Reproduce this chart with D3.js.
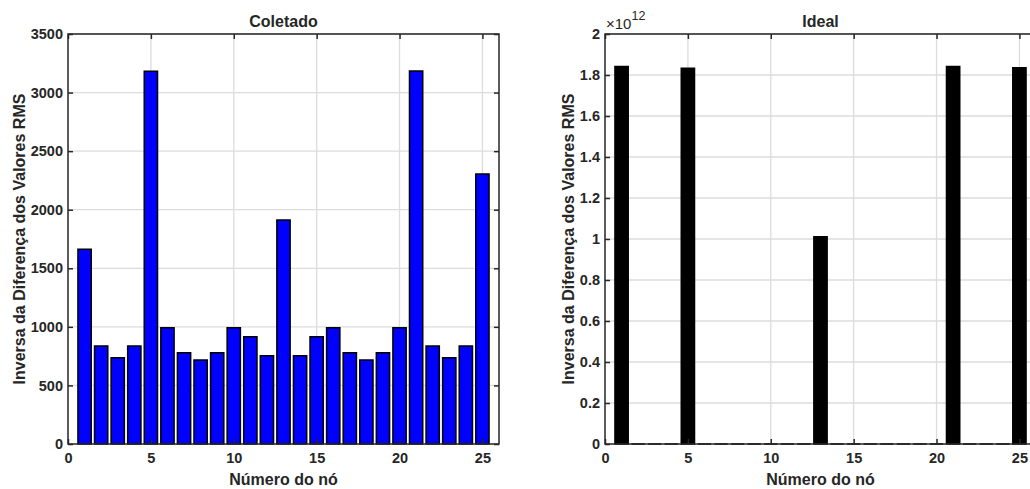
<!DOCTYPE html>
<html>
<head>
<meta charset="utf-8">
<script src="https://cdn.jsdelivr.net/npm/d3@7"></script>
<style>
  body { margin: 0; background: #fff; }
  svg text { font-family: "Liberation Sans", Arial, sans-serif; fill: #262626; }
</style>
</head>
<body>
<div id="chart"></div>
<script>
// node numbers on the x axis
var nodes = [1, 2, 3, 4, 5, 6, 7, 8, 9, 10, 11, 12, 13, 14, 15, 16, 17, 18, 19, 20, 21, 22, 23, 24, 25];
// measured ("Coletado") inverse RMS difference
var coletado = [1662, 837, 737, 837, 3182, 993, 780, 717, 780, 993, 916, 754, 1912,
                754, 916, 993, 780, 717, 780, 993, 3185, 837, 737, 837, 2305];
// ideal inverse RMS difference
var ideal = [1.841e12, 0, 0, 0, 1.833e12, 0, 0, 0, 0, 0, 0, 0, 1.011e12,
             0, 0, 0, 0, 0, 0, 0, 1.841e12, 0, 0, 0, 1.835e12];
var xTicks = [0, 5, 10, 15, 20, 25];
var leftYTicks = [0, 500, 1000, 1500, 2000, 2500, 3000, 3500];
var rightYTicks = [0, 0.2e12, 0.4e12, 0.6e12, 0.8e12, 1e12, 1.2e12, 1.4e12, 1.6e12, 1.8e12, 2e12];

var width = 1030, height = 489;
var svg = d3.select("#chart").append("svg")
    .attr("width", width)
    .attr("height", height);

var yLabel = "Inversa da Diferença dos Valores RMS";
var xLabel = "Número do nó";

function drawPanel(opt) {
    var x = d3.scaleLinear().domain([0, 26]).range([opt.left, opt.right]);
    var y = d3.scaleLinear().domain([0, opt.yMax]).range([opt.bottom, opt.top]);
    var g = svg.append("g");

    //grid lines
    g.selectAll(".gx").data(xTicks.slice(1))
        .enter().append("line")
        .attr("x1", d => x(d)).attr("x2", d => x(d))
        .attr("y1", opt.top).attr("y2", opt.bottom)
        .attr("stroke", "#dcdcdc").attr("stroke-width", 1.3);
    g.selectAll(".gy").data(opt.yTicks.slice(1))
        .enter().append("line")
        .attr("x1", opt.left).attr("x2", opt.right)
        .attr("y1", d => y(d)).attr("y2", d => y(d))
        .attr("stroke", "#dcdcdc").attr("stroke-width", 1.3);

    //bars, drawn as paths so zero bars still show their edge
    var bw = 0.4;
    g.selectAll(".bar").data(opt.values)
        .enter().append("path")
        .attr("d", (d, i) => {
            var n = nodes[i];
            return "M" + x(n - bw) + "," + y(0) + "V" + y(d) + "H" + x(n + bw) + "V" + y(0) + "Z";
        })
        .attr("fill", opt.fill)
        .attr("stroke", "#000")
        .attr("stroke-width", 1.5);

    //axes with inward ticks
    var ax = g.append("g").attr("transform", "translate(0," + opt.bottom + ")")
        .call(d3.axisBottom(x).tickValues(xTicks).tickSize(-5).tickPadding(9));
    var axTop = g.append("g").attr("transform", "translate(0," + opt.top + ")")
        .call(d3.axisTop(x).tickValues(xTicks).tickSize(-5).tickFormat(""));
    var ay = g.append("g").attr("transform", "translate(" + opt.left + ",0)")
        .call(d3.axisLeft(y).tickValues(opt.yTicks).tickSize(-5).tickPadding(5).tickFormat(opt.format));
    var ayR = g.append("g").attr("transform", "translate(" + opt.right + ",0)")
        .call(d3.axisRight(y).tickValues(opt.yTicks).tickSize(-5).tickFormat(""));

    [ax, axTop, ay, ayR].forEach(a => {
        a.select(".domain").remove();
        a.selectAll(".tick line").attr("stroke", "#262626").attr("stroke-width", 1.5);
        a.selectAll("text")
            .style("font-family", "'Liberation Sans', Arial, sans-serif")
            .style("font-size", "14.5px")
            .style("font-weight", "bold")
            .attr("fill", "#262626");
    });

    //box
    g.append("rect")
        .attr("x", opt.left).attr("y", opt.top)
        .attr("width", opt.right - opt.left).attr("height", opt.bottom - opt.top)
        .attr("fill", "none").attr("stroke", "#262626").attr("stroke-width", 1.5);

    var cx = (opt.left + opt.right) / 2;
    g.append("text")
        .attr("x", cx).attr("y", 26.5)
        .attr("text-anchor", "middle")
        .style("font-size", "16px").style("font-weight", "bold")
        .text(opt.title);
    g.append("text")
        .attr("x", cx).attr("y", 485)
        .attr("text-anchor", "middle")
        .style("font-size", "16px").style("font-weight", "bold")
        .text(xLabel);
    g.append("text")
        .attr("transform", "translate(" + opt.yLabelX + "," + (opt.top + opt.bottom) / 2 + ") rotate(-90)")
        .attr("text-anchor", "middle")
        .style("font-size", "16px").style("font-weight", "bold")
        .text(yLabel);
    return g;
}

drawPanel({
    left: 68, right: 499, top: 34, bottom: 444,
    yMax: 3500, yTicks: leftYTicks, values: coletado,
    fill: "#0000ff", title: "Coletado", yLabelX: 25,
    format: d3.format("d")
});

var right = drawPanel({
    left: 605, right: 1036, top: 34, bottom: 444,
    yMax: 2e12, yTicks: rightYTicks, values: ideal,
    fill: "#000000", title: "Ideal", yLabelX: 574,
    format: d => +(d / 1e12).toFixed(1) + ""
});

//exponent label
var expo = right.append("text")
    .attr("x", 606).attr("y", 28.5)
    .style("font-size", "15px");
expo.append("tspan").text("×10");
expo.append("tspan").attr("dy", -9).style("font-size", "12.5px").text("12");
</script>
</body>
</html>
